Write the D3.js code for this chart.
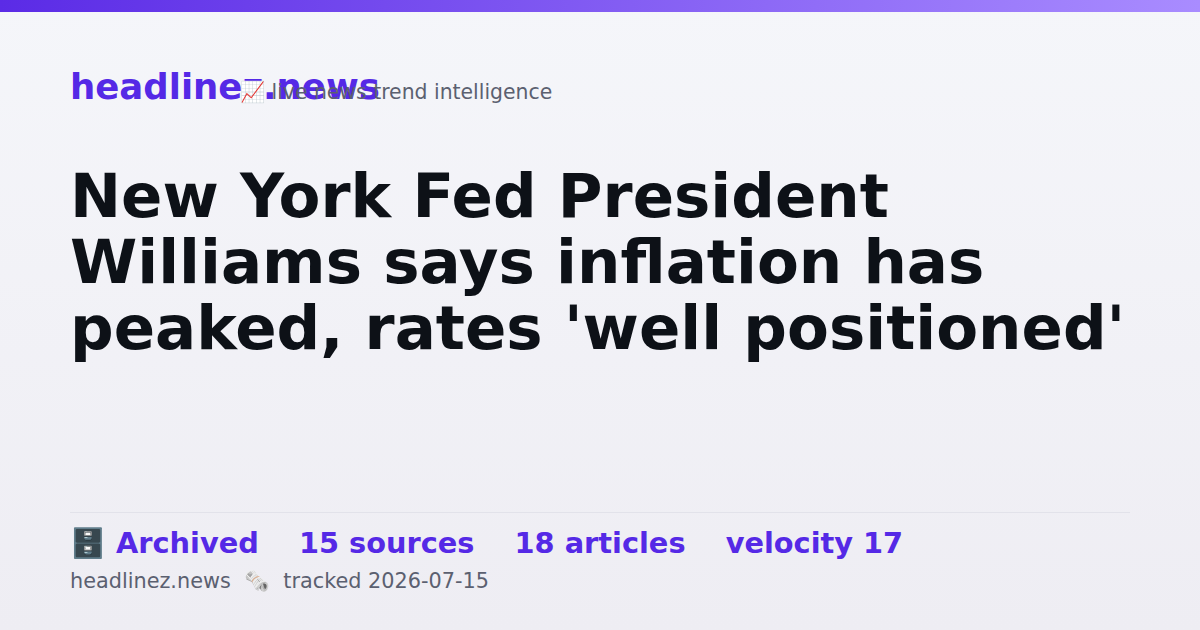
<!DOCTYPE html>
<html><head><meta charset="utf-8">
<script src="https://cdn.jsdelivr.net/npm/d3@7"></script>
<style>body{margin:0}svg{display:block}</style>
</head><body>
<svg id="card"></svg>
<script>
var titleLines = ["New York Fed President", "Williams says inflation has", "peaked, rates 'well positioned'"];
var statLabels = ["\u{1F5C4}\uFE0F Archived", "15 sources", "18 articles", "velocity 17"];
var footerParts = ["headlinez.news", "\u{1F5DE}\uFE0F", "tracked 2026-07-15"];

var width = 1200, height = 630;
var svg = d3.select("#card").attr("width", width).attr("height", height);
var defs = svg.append("defs");

var bg = defs.append("linearGradient").attr("id", "bg").attr("x1", 0).attr("y1", 0).attr("x2", 0).attr("y2", 1);
bg.append("stop").attr("offset", 0).attr("stop-color", "#f5f6fa");
bg.append("stop").attr("offset", 1).attr("stop-color", "#eeedf3");
var bar = defs.append("linearGradient").attr("id", "bar");
bar.append("stop").attr("offset", 0).attr("stop-color", "#5b2be6");
bar.append("stop").attr("offset", 1).attr("stop-color", "#a98cff");

svg.append("rect").attr("width", width).attr("height", height).attr("fill", "url(#bg)");
svg.append("rect").attr("width", width).attr("height", 12).attr("fill", "url(#bar)");

var font = "DejaVu Sans, sans-serif";
svg.append("text").attr("x", 70).attr("y", 99).attr("font-family", font).attr("font-weight", "bold")
  .attr("font-size", 35.5).attr("fill", "#5529e6").text("headlinez.news");
svg.append("text").attr("x", 240).attr("y", 99).attr("font-family", font)
  .attr("font-size", 20.4).attr("fill", "#5b6070").text("\u{1F4C8} live news trend intelligence");

svg.append("g").selectAll("text").data(titleLines).join("text")
  .attr("x", 70).attr("y", function(d, i) { return 217 + i * 66; })
  .attr("font-family", font).attr("font-weight", "bold").attr("font-size", 61)
  .attr("fill", "#0d1117").text(function(d) { return d; });

svg.append("line").attr("x1", 70).attr("x2", 1130).attr("y1", 512.5).attr("y2", 512.5)
  .attr("stroke", "#e2e2ea").attr("stroke-width", 1);

svg.append("text").attr("x", 70).attr("y", 553).attr("font-family", font).attr("font-weight", "bold")
  .attr("font-size", 28.8).attr("fill", "#5529e6").attr("xml:space", "preserve")
  .text(statLabels.join("    "));

svg.append("text").attr("x", 70).attr("y", 588).attr("font-family", font)
  .attr("font-size", 20.8).attr("fill", "#5b6070").attr("xml:space", "preserve")
  .text(footerParts.join("  "));
</script>
</body></html>
